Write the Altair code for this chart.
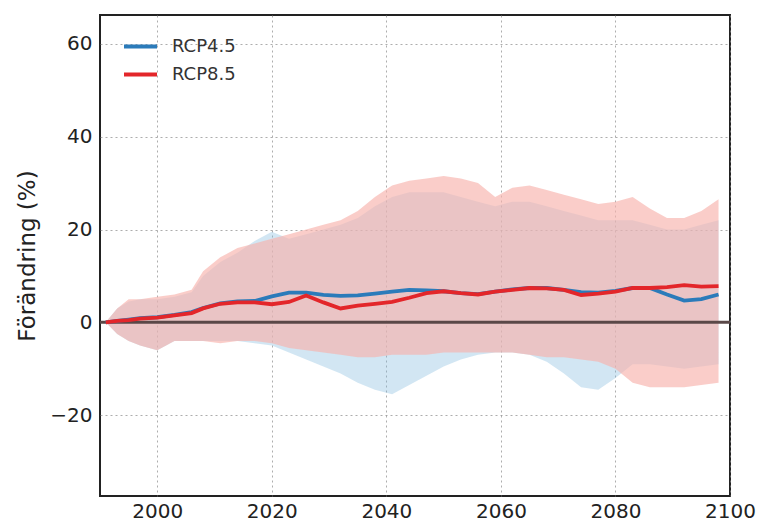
import altair as alt
import pandas as pd

# ---- data ----
years = [1991, 1993, 1995, 1997, 2000, 2003, 2006, 2008, 2011, 2014, 2017, 2020,
         2023, 2026, 2029, 2032, 2035, 2038, 2041, 2044, 2047, 2050, 2053, 2056,
         2059, 2062, 2065, 2068, 2071, 2074, 2077, 2080, 2083, 2086, 2089, 2092,
         2095, 2098]

rcp45_mean = [0, 0.3, 0.6, 0.9, 1.1, 1.6, 2.2, 3.1, 4.1, 4.5, 4.6, 5.6,
              6.4, 6.4, 5.9, 5.7, 5.8, 6.2, 6.6, 7.0, 6.9, 6.7, 6.3, 6.1,
              6.6, 7.1, 7.4, 7.4, 7.0, 6.5, 6.4, 6.8, 7.4, 7.4, 6.0, 4.7,
              5.0, 6.0]
rcp85_mean = [0, 0.3, 0.5, 0.8, 1.0, 1.5, 2.0, 3.0, 4.0, 4.3, 4.3, 3.9,
              4.4, 5.8, 4.3, 3.0, 3.6, 4.0, 4.4, 5.3, 6.3, 6.7, 6.3, 6.0,
              6.6, 7.0, 7.4, 7.3, 7.0, 5.9, 6.2, 6.6, 7.4, 7.4, 7.6, 8.0,
              7.7, 7.8]

rcp45_hi = [0, 3, 4.5, 5, 5, 5.5, 6.5, 10, 13, 15, 17.5, 19.5,
            18, 19, 20, 21, 22.5, 25, 27, 28, 28, 28, 27, 26,
            25, 26, 26, 25, 24, 23, 22, 22, 22, 21, 20, 20,
            21, 22]
rcp45_lo = [0, -2.5, -4, -5, -6, -4, -4, -4, -4, -4, -4.5, -5,
            -6.5, -8, -9.5, -11, -13, -14.5, -15.5, -13.5, -11.5, -9.5, -8, -7,
            -6.5, -6.5, -7, -8.5, -11, -14, -14.5, -12, -9, -9, -9.5, -10,
            -9.5, -9]
rcp85_hi = [0, 3, 5, 5, 5.5, 6, 7, 11, 14, 16, 17, 18,
            19, 20, 21, 22, 24, 27, 29.5, 30.5, 31, 31.5, 31, 30,
            27, 29, 29.5, 28.5, 27.5, 26.5, 25.5, 26, 27, 24.5, 22.5, 22.5,
            24, 26.5]
rcp85_lo = [0, -2.5, -4, -5, -6, -4, -4, -4, -4.5, -4, -4, -4.5,
            -5.5, -6, -6.5, -7, -7.5, -7.5, -7, -7, -7, -6.5, -6.5, -6.5,
            -6.5, -6.5, -7, -7.5, -7.5, -8, -8.5, -10, -13, -14, -14, -14,
            -13.5, -13]

series_names = ["RCP4.5", "RCP8.5"]
series_colors = ["#2b7bba", "#e3262a"]
band_colors = ["#7fb8de", "#f7b2ac"]
x_ticks = [2000, 2020, 2040, 2060, 2080, 2100]
y_ticks = [-20, 0, 20, 40, 60]

# ---- tables ----
lines_df = pd.concat([
    pd.DataFrame({"year": years, "series": "RCP4.5", "value": rcp45_mean}),
    pd.DataFrame({"year": years, "series": "RCP8.5", "value": rcp85_mean}),
])
band45_df = pd.DataFrame({"year": years, "lo": rcp45_lo, "hi": rcp45_hi})
band85_df = pd.DataFrame({"year": years, "lo": rcp85_lo, "hi": rcp85_hi})
zero_df = pd.DataFrame({"y": [0]})

x_scale = alt.Scale(domain=[1990, 2100], nice=False, zero=False)
y_scale = alt.Scale(domain=[-37.4, 66.2], nice=False, zero=False)
color_scale = alt.Scale(domain=series_names, range=series_colors)

x_axis = alt.Axis(values=x_ticks, format="d", title=None, labelFlush=False, labelPadding=5)
y_axis = alt.Axis(values=y_ticks, format="d", title="Förändring (%)", labelFlush=False)


def band(df, color, opacity):
    return alt.Chart(df).mark_area(color=color, opacity=opacity).encode(
        x=alt.X("year:Q", scale=x_scale, axis=x_axis),
        y=alt.Y("lo:Q", scale=y_scale, axis=y_axis),
        y2="hi:Q",
    )


band45 = band(band45_df, band_colors[0], 0.35)
band85 = band(band85_df, band_colors[1], 0.65)

zero = alt.Chart(zero_df).mark_rule(color="#5a4848", strokeWidth=3).encode(
    y=alt.Y("y:Q", scale=y_scale)
)

lines = alt.Chart(lines_df).mark_line(strokeWidth=3.8).encode(
    x=alt.X("year:Q", scale=x_scale, axis=x_axis),
    y=alt.Y("value:Q", scale=y_scale, axis=y_axis),
    color=alt.Color(
        "series:N", scale=color_scale,
        legend=alt.Legend(
            title=None, orient="none", legendX=22, legendY=13,
            symbolType="stroke", symbolSize=1089, symbolStrokeWidth=4,
            symbolOpacity=1, labelFontSize=18, labelFont="DejaVu Sans",
            labelColor="#333", labelOffset=13, rowPadding=0, padding=0,
        ),
    ),
)

chart = alt.layer(band45, band85, zero, lines).properties(
    width=630,
    height=481,
    background="white",
    autosize=alt.AutoSizeParams(type="none"),
    padding={"left": 92, "top": 7, "right": 26, "bottom": 28},
).configure_view(
    stroke="#222", strokeWidth=2
).configure_axis(
    labelFont="DejaVu Sans", labelFontSize=20, labelColor="#222",
    titleFont="DejaVu Sans", titleFontSize=23, titleFontWeight="normal",
    titleColor="#222", titlePadding=10,
    ticks=False, labelPadding=8, domain=False,
    grid=True, gridColor="#8a8a8a", gridDash=[2, 3], gridWidth=1, gridOpacity=0.7,
)

chart.save("out.html", embed_options={"renderer": "svg", "actions": False})
